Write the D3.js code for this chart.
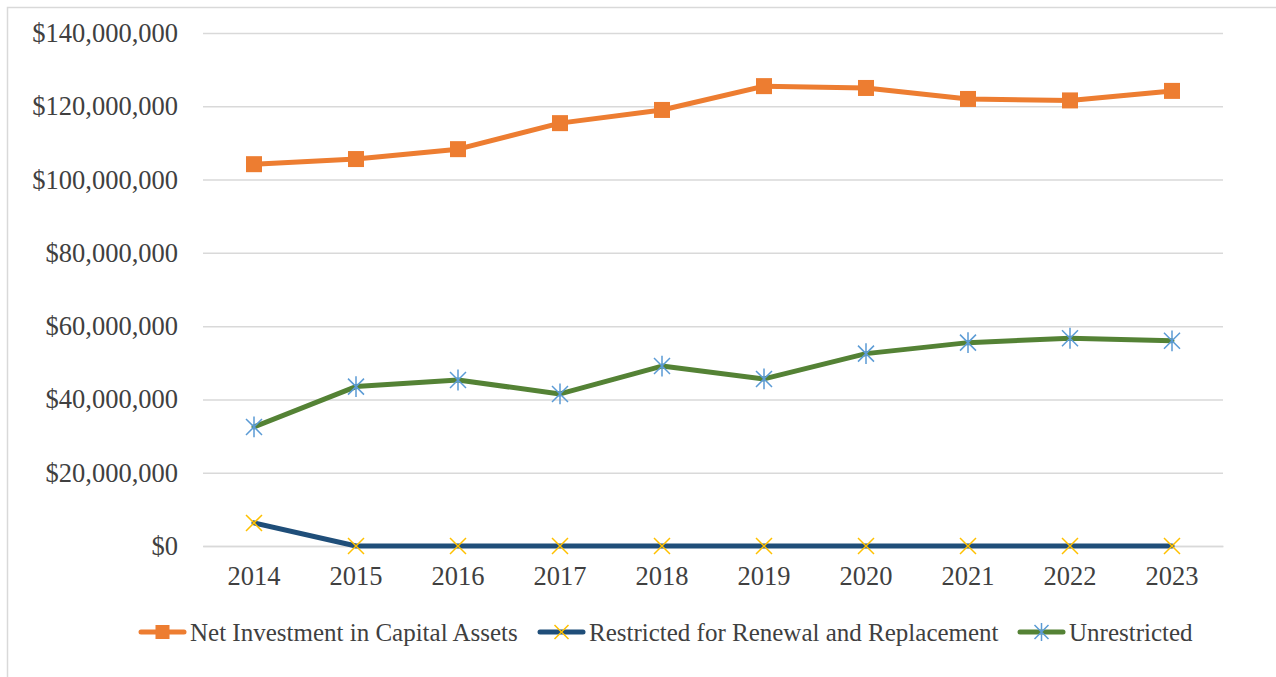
<!DOCTYPE html>
<html><head><meta charset="utf-8">
<script src="https://cdn.jsdelivr.net/npm/d3@7"></script>
<style>body{margin:0;background:#fff}svg{display:block}</style>
</head><body>
<svg id="c" width="1276" height="677"></svg>
<script>
const years = ["2014","2015","2016","2017","2018","2019","2020","2021","2022","2023"];
const netInvestment = [104.2e6,105.6e6,108.3e6,115.4e6,119.0e6,125.5e6,125.0e6,122.0e6,121.6e6,124.2e6];
const restricted = [6.3e6,0,0,0,0,0,0,0,0,0];
const unrestricted = [32.5e6,43.5e6,45.3e6,41.5e6,49.1e6,45.6e6,52.5e6,55.5e6,56.7e6,56.0e6];
const yTicks = [0,20e6,40e6,60e6,80e6,100e6,120e6,140e6];
const seriesNames = ["Net Investment in Capital Assets","Restricted for Renewal and Replacement","Unrestricted"];

const svg = d3.select("#c");
const font = "'Liberation Serif','Times New Roman',serif";
svg.append("rect").attr("x",7.5).attr("y",7.5).attr("width",1280).attr("height",700)
  .attr("fill","none").attr("stroke","#d9d9d9").attr("stroke-width",1.5);

const x = d3.scaleBand().domain(years).range([203,1223]);
const y = d3.scaleLinear().domain([0,140e6]).range([546,33]);
const fmt = v => "$" + d3.format(",")(v);

const yAxis = svg.append("g").attr("transform","translate(203,0)")
  .call(d3.axisLeft(y).tickValues(yTicks).tickSize(-1020).tickPadding(25).tickFormat(fmt));
yAxis.select(".domain").remove();
yAxis.selectAll("line").attr("stroke","#d9d9d9").attr("stroke-width",1.5);
yAxis.selectAll("text").attr("font-family",font).attr("font-size",26.5).attr("fill","#404040");

const xAxis = svg.append("g").attr("transform","translate(0,546)")
  .call(d3.axisBottom(x).tickSize(0).tickPadding(20));
xAxis.select(".domain").attr("stroke","#d9d9d9").attr("stroke-width",1.5);
xAxis.selectAll("text").attr("font-family",font).attr("font-size",26.5).attr("fill","#404040");

const cx = d => x(d) + x.bandwidth()/2;
const line = d3.line().x((d,i)=>cx(years[i])).y(d=>y(d));

function xMark(g, px, py, r, color){
  g.append("path").attr("d",`M${px-r},${py-r}L${px+r},${py+r}M${px-r},${py+r}L${px+r},${py-r}`)
    .attr("stroke",color).attr("stroke-width",1.5).attr("fill","none");
}
function starMark(g, px, py, r, color){
  g.append("path").attr("d",`M${px-r},${py-r}L${px+r},${py+r}M${px-r},${py+r}L${px+r},${py-r}M${px},${py-r*1.3}L${px},${py+r*1.3}`)
    .attr("stroke",color).attr("stroke-width",1.5).attr("fill","none");
}

// Restricted
svg.append("path").datum(restricted).attr("d",line).attr("fill","none")
  .attr("stroke","#1f4e79").attr("stroke-width",5).attr("stroke-linejoin","round").attr("stroke-linecap","round");
restricted.forEach((v,i)=>xMark(svg,cx(years[i]),y(v),8,"#ffc000"));
// Unrestricted
svg.append("path").datum(unrestricted).attr("d",line).attr("fill","none")
  .attr("stroke","#548235").attr("stroke-width",5).attr("stroke-linejoin","round").attr("stroke-linecap","round");
unrestricted.forEach((v,i)=>starMark(svg,cx(years[i]),y(v),8,"#5b9bd5"));
// Net investment
svg.append("path").datum(netInvestment).attr("d",line).attr("fill","none")
  .attr("stroke","#ed7d31").attr("stroke-width",5).attr("stroke-linejoin","round").attr("stroke-linecap","round");
svg.selectAll(".sq").data(netInvestment).enter().append("rect")
  .attr("x",(d,i)=>cx(years[i])-8).attr("y",d=>y(d)-8).attr("width",16).attr("height",16).attr("fill","#ed7d31");

// Legend
const ly = 632;
const leg = [{x:139,c:"#ed7d31",m:"sq",mc:"#ed7d31"},{x:538,c:"#1f4e79",m:"x",mc:"#ffc000"},{x:1018,c:"#548235",m:"star",mc:"#5b9bd5"}];
leg.forEach((l,i)=>{
  svg.append("line").attr("x1",l.x+2).attr("x2",l.x+45).attr("y1",ly).attr("y2",ly)
    .attr("stroke",l.c).attr("stroke-width",5).attr("stroke-linecap","round");
  const mx = l.x+23.5;
  if(l.m==="sq") svg.append("rect").attr("x",mx-7).attr("y",ly-7).attr("width",14).attr("height",14).attr("fill",l.mc);
  else if(l.m==="x") xMark(svg,mx,ly,7,l.mc);
  else starMark(svg,mx,ly,7,l.mc);
  svg.append("text").attr("x",l.x+51).attr("y",ly).attr("dy","0.35em")
    .attr("font-family",font).attr("font-size",25).attr("fill","#404040").text(seriesNames[i]);
});
</script>
</body></html>
